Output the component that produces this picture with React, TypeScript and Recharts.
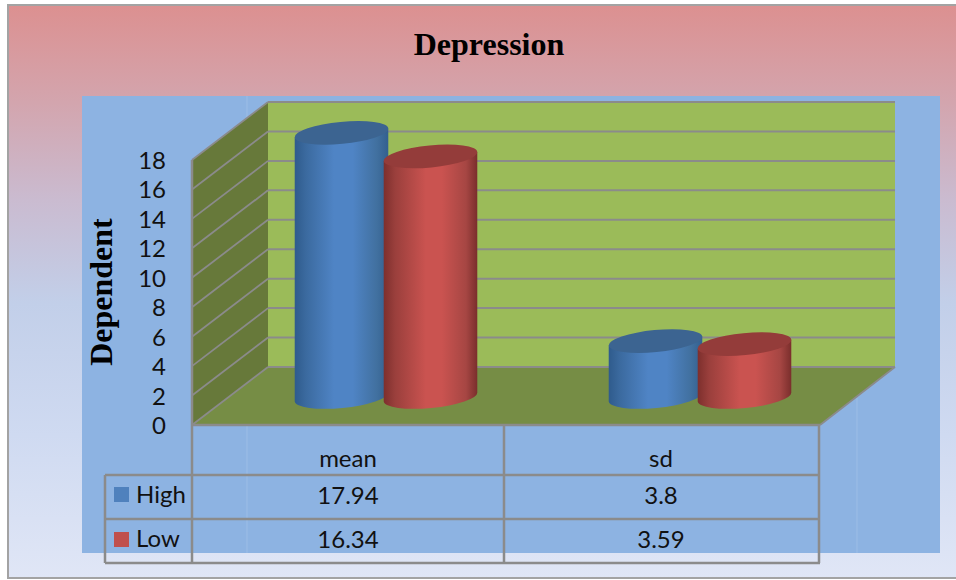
import React from 'react';
import { BarChart, Bar, XAxis, YAxis, CartesianGrid } from 'recharts';

const categories = ['mean', 'sd'];
const highValues = [17.94, 3.8];
const lowValues = [16.34, 3.59];
const yTicks = [0, 2, 4, 6, 8, 10, 12, 14, 16, 18];

const chartData = categories.map((category, i) => ({
  category,
  High: highValues[i],
  Low: lowValues[i],
}));

const WIDTH = 956;
const HEIGHT = 580;
const LINE = '#8b8b8b';
const LABEL_FONT = 'Lato, sans-serif';
const TITLE_FONT = '"Liberation Serif", serif';

// front plane of the plot box, the back wall sits at (DEPTH_X, -DEPTH_Y) from it
const LEFT = 192;
const RIGHT = 820;
const TOP = 160;
const BOTTOM = 425;
const DEPTH_X = 76;
const DEPTH_Y = 58;

// cylinders stand part way into the box
const BAR_SHIFT_X = 36.5;
const BAR_SHIFT_Y = -28;
const TILT = 5.5;
const CAP_RY = 11;

const Cylinder = (props: any) => {
  const { x, y, width, height, bodyFill, capFill } = props;
  const rx = width / 2;
  const cx = x + rx + BAR_SHIFT_X;
  const top = y + BAR_SHIFT_Y;
  const bottom = y + height + BAR_SHIFT_Y;
  const rad = (TILT * Math.PI) / 180;
  const ex = rx * Math.cos(rad);
  const ey = rx * Math.sin(rad);
  const body = [
    `M${cx - ex},${top + ey}`,
    `L${cx - ex},${bottom + ey}`,
    `A${rx},${CAP_RY} ${-TILT} 0 0 ${cx + ex},${bottom - ey}`,
    `L${cx + ex},${top - ey}`,
    'Z',
  ].join(' ');
  return (
    <g>
      <path d={body} fill={bodyFill} />
      <ellipse
        cx={cx}
        cy={top}
        rx={rx}
        ry={CAP_RY}
        fill={capFill}
        transform={`rotate(${-TILT} ${cx} ${top})`}
      />
    </g>
  );
};

// each grid value gets a line across the side wall and along the back wall
const WallLine = (props: any) => {
  const { x1, x2, y1 } = props;
  return (
    <g key={props.key}>
      <line x1={x1} y1={y1} x2={x1 + DEPTH_X} y2={y1 - DEPTH_Y} stroke={LINE} strokeWidth={1.8} />
      <line x1={x1 + DEPTH_X} y1={y1 - DEPTH_Y} x2={x2 + DEPTH_X - 1} y2={y1 - DEPTH_Y} stroke={LINE} strokeWidth={2} />
    </g>
  );
};

// value labels sit a touch below their grid line
const ValueTick = (props: any) => {
  const { x, y, payload } = props;
  return (
    <text x={x} y={y + 9} textAnchor="end" fontFamily={LABEL_FONT} fontSize={24} fill="#111">
      {payload.value}
    </text>
  );
};

const Backdrop = () => (
  <svg width={WIDTH} height={HEIGHT} style={{ position: 'absolute', left: 0, top: 0 }}>
    <defs>
      <linearGradient id="pageFill" x1="0" y1="0" x2="0" y2="1">
        <stop offset="0" stopColor="#dc9090" />
        <stop offset="0.17" stopColor="#d3a5ae" />
        <stop offset="0.34" stopColor="#cabbd0" />
        <stop offset="0.52" stopColor="#c2cfe9" />
        <stop offset="0.75" stopColor="#cfdaf1" />
        <stop offset="1" stopColor="#e0e6f6" />
      </linearGradient>
    </defs>
    <rect x={8} y={5} width={WIDTH} height={573} fill="url(#pageFill)" stroke="#a3a3a3" strokeWidth={2} />
    <rect x={82} y={96} width={858} height={457} fill="#8db3e2" />
    <line x1={247} y1={96} x2={247} y2={140} stroke="#9cbde6" />
    <line x1={247} y1={425} x2={247} y2={553} stroke="#9cbde6" />
    <line x1={857} y1={398} x2={857} y2={553} stroke="#9cbde6" />

    <rect x={LEFT + DEPTH_X} y={TOP - DEPTH_Y} width={RIGHT - LEFT - 1} height={BOTTOM - TOP} fill="#9bbb59" />
    <polygon
      points={`${LEFT},${TOP} ${LEFT + DEPTH_X},${TOP - DEPTH_Y} ${LEFT + DEPTH_X},${BOTTOM - DEPTH_Y} ${LEFT},${BOTTOM}`}
      fill="#67793a"
    />
    <polygon
      points={`${LEFT},${BOTTOM} ${LEFT + DEPTH_X},${BOTTOM - DEPTH_Y} ${RIGHT + DEPTH_X - 1},${BOTTOM - DEPTH_Y} ${RIGHT},${BOTTOM}`}
      fill="#768d45"
    />
    <line x1={RIGHT} y1={BOTTOM} x2={RIGHT + DEPTH_X - 1} y2={BOTTOM - DEPTH_Y} stroke={LINE} strokeWidth={1.8} />

    {/* data table under the plot */}
    <g stroke={LINE} strokeWidth={2.5}>
      <line x1={LEFT} y1={TOP} x2={LEFT} y2={563} />
      <line x1={504} y1={BOTTOM} x2={504} y2={563} />
      <line x1={RIGHT - 1} y1={BOTTOM} x2={RIGHT - 1} y2={563} />
      <line x1={LEFT} y1={BOTTOM} x2={RIGHT} y2={BOTTOM} />
      <line x1={105} y1={475} x2={RIGHT} y2={475} />
      <line x1={105} y1={519} x2={RIGHT} y2={519} />
      <line x1={105} y1={563} x2={RIGHT} y2={563} />
      <line x1={105} y1={475} x2={105} y2={563} />
    </g>
    <rect x={114} y={487} width={15} height={15} fill="#4f81bd" />
    <rect x={114} y={532} width={15} height={15} fill="#c0504d" />
    <g fontFamily={LABEL_FONT} fontSize={24} fill="#111">
      <text x={136} y={503}>High</text>
      <text x={136} y={547}>Low</text>
      {categories.map((name, i) => (
        <g key={name} textAnchor="middle">
          <text x={348 + i * 313} y={467}>{name}</text>
          <text x={348 + i * 313} y={504}>{highValues[i]}</text>
          <text x={348 + i * 313} y={548}>{lowValues[i]}</text>
        </g>
      ))}
    </g>
    <text x={489} y={55} textAnchor="middle" fontFamily={TITLE_FONT} fontWeight="bold" fontSize={32} fill="#000">
      Depression
    </text>
    <text
      x={112}
      y={292}
      textAnchor="middle"
      transform="rotate(-90 112 292)"
      fontFamily={TITLE_FONT}
      fontWeight="bold"
      fontSize={32}
      fill="#000"
    >
      Dependent
    </text>
  </svg>
);

export default function App() {
  return (
    <div style={{ position: 'absolute', left: 0, top: 0, width: WIDTH, height: HEIGHT, overflow: 'hidden' }}>
      <Backdrop />
      <div style={{ position: 'absolute', left: 0, top: 0 }}>
        <BarChart
          width={WIDTH}
          height={HEIGHT}
          data={chartData}
          margin={{ top: TOP, left: LEFT - 60, right: WIDTH - RIGHT, bottom: HEIGHT - BOTTOM }}
          barSize={94}
          barGap={-5}
          barCategoryGap={0}
        >
          <defs>
            <linearGradient id="highBody" x1="0" y1="0" x2="1" y2="0">
              <stop offset="0" stopColor="#2f5b8c" />
              <stop offset="0.12" stopColor="#3b6a9f" />
              <stop offset="0.42" stopColor="#4f84c5" />
              <stop offset="0.62" stopColor="#4f84c5" />
              <stop offset="0.88" stopColor="#41709f" />
              <stop offset="1" stopColor="#335f8f" />
            </linearGradient>
            <linearGradient id="lowBody" x1="0" y1="0" x2="1" y2="0">
              <stop offset="0" stopColor="#7d2f2d" />
              <stop offset="0.12" stopColor="#9a3f3c" />
              <stop offset="0.45" stopColor="#ca5350" />
              <stop offset="0.62" stopColor="#ca5350" />
              <stop offset="0.88" stopColor="#a64643" />
              <stop offset="1" stopColor="#7a2e2c" />
            </linearGradient>
          </defs>
          <CartesianGrid horizontal={WallLine} vertical={false} />
          <XAxis dataKey="category" hide />
          <YAxis
            width={60}
            domain={[0, 18]}
            ticks={yTicks}
            interval={0}
            axisLine={false}
            tickLine={false}
            tickSize={0}
            tickMargin={26}
            tick={ValueTick}
          />
          <Bar
            dataKey="High"
            isAnimationActive={false}
            shape={(p: any) => <Cylinder {...p} bodyFill="url(#highBody)" capFill="#3c6491" />}
          />
          <Bar
            dataKey="Low"
            isAnimationActive={false}
            shape={(p: any) => <Cylinder {...p} bodyFill="url(#lowBody)" capFill="#943c3a" />}
          />
        </BarChart>
      </div>
    </div>
  );
}
